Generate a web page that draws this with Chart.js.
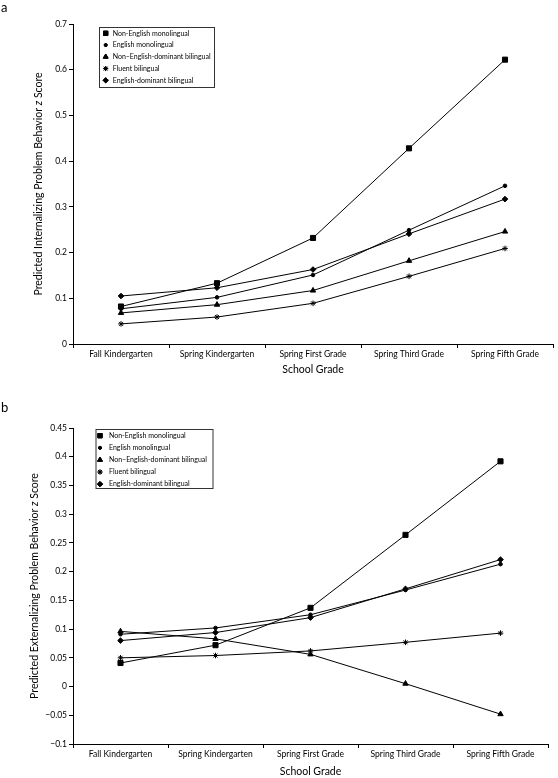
<!DOCTYPE html>
<html>
<head>
<meta charset="utf-8">
<script src="https://cdn.jsdelivr.net/npm/chart.js@4/dist/chart.umd.min.js"></script>
<style>
  html, body { margin: 0; padding: 0; background: #fff; overflow: hidden; }
  body { width: 558px; height: 778px; position: relative; }
  canvas { position: absolute; left: 0; }
  #chart-a { top: 0; }
  #chart-b { top: 380px; }
</style>
</head>
<body>
<canvas id="chart-a" width="558" height="380"></canvas>
<canvas id="chart-b" width="558" height="398"></canvas>
<script>
/* ── Data ─────────────────────────────── */
const grades = ['Fall Kindergarten', 'Spring Kindergarten', 'Spring First Grade', 'Spring Third Grade', 'Spring Fifth Grade'];
const groups = ['Non-English monolingual', 'English monolingual', 'Non\u2013English-dominant bilingual', 'Fluent bilingual', 'English-dominant bilingual'];

// panel a: internalizing
const intNonEngMono = [0.082, 0.133, 0.232, 0.428, 0.622];
const intEngMono    = [0.077, 0.102, 0.151, 0.249, 0.346];
const intNonEngDom  = [0.068, 0.086, 0.117, 0.182, 0.246];
const intFluent     = [0.044, 0.059, 0.089, 0.148, 0.209];
const intEngDom     = [0.105, 0.123, 0.163, 0.241, 0.317];

// panel b: externalizing
const extNonEngMono = [0.041, 0.072, 0.137, 0.264, 0.392];
const extEngMono    = [0.091, 0.102, 0.125, 0.168, 0.213];
const extNonEngDom  = [0.096, 0.083, 0.056, 0.005, -0.048];
const extFluent     = [0.050, 0.054, 0.062, 0.077, 0.093];
const extEngDom     = [0.080, 0.094, 0.120, 0.170, 0.221];

const intTicks = { min: 0, max: 0.7, step: 0.1 };
const extTicks = { min: -0.1, max: 0.45, step: 0.05 };

/* ── Styling ──────────────────────────── */
const FONT = 'Lato, "Noto Sans", sans-serif';
const markers = [
  { style: 'rect',     r: 3.6, lr: 3.1 },
  { style: 'circle',   r: 1.8, lr: 1.5 },
  { style: 'triangle', r: 3.1, lr: 2.8 },
  { style: 'star',     r: 2.8, lr: 2.5 },
  { style: 'rectRot',  r: 2.8, lr: 2.6 },
];

function makeDatasets(series) {
  return series.map((vals, i) => ({
    label: groups[i],
    data: vals,
    borderColor: '#000',
    backgroundColor: '#000',
    borderWidth: 1,
    pointStyle: markers[i].style,
    pointRadius: markers[i].r,
    pointBorderWidth: 1,
    pointBackgroundColor: '#000',
    pointBorderColor: '#000',
    tension: 0,
    clip: false,
  }));
}

const fmtTick = v => String(Math.round(v * 100) / 100).replace('-', '\u2212');

/* ── Panel plugin: letter tag, y title with italic z, boxed legend ── */
const panelPlugin = {
  id: 'panel',
  afterDraw(chart, args, o) {
    const ctx = chart.ctx;
    const area = chart.chartArea;
    ctx.save();
    ctx.fillStyle = '#000';

    // tag
    ctx.font = `13px ${FONT}`;
    ctx.textAlign = 'left';
    ctx.textBaseline = 'alphabetic';
    ctx.fillText(o.tag, 1, o.tagY);

    // y title
    ctx.save();
    ctx.translate(o.titleX, (area.top + area.bottom) / 2);
    ctx.rotate(-Math.PI / 2);
    ctx.textBaseline = 'middle';
    const parts = [
      [o.title[0], `10.5px ${FONT}`],
      ['z', `italic 10.5px ${FONT}`],
      [o.title[1], `10.5px ${FONT}`],
    ];
    let total = 0;
    parts.forEach(p => { ctx.font = p[1]; total += ctx.measureText(p[0]).width; });
    let x = -total / 2;
    parts.forEach(p => { ctx.font = p[1]; ctx.fillText(p[0], x, 0); x += ctx.measureText(p[0]).width; });
    ctx.restore();

    // legend box
    const L = o.legend;
    ctx.strokeStyle = '#333';
    ctx.lineWidth = 1;
    ctx.strokeRect(L.x + 0.5, L.y + 0.5, L.w, L.h);
    ctx.font = `7px ${FONT}`;
    ctx.textBaseline = 'middle';
    chart.data.datasets.forEach((ds, i) => {
      const y = L.y + L.first + i * L.gap;
      ctx.lineWidth = 1;
      Chart.helpers.drawPoint(ctx, { pointStyle: ds.pointStyle, radius: markers[i].lr, rotation: 0, borderWidth: 1 }, L.markX, y);
      ctx.fillStyle = '#000';
      ctx.strokeStyle = '#000';
      ctx.fill();
      ctx.stroke();
      ctx.fillText(ds.label, L.textX, y);
    });
    ctx.restore();
  },
};

function buildChart(id, series, tk, cfg) {
  return new Chart(document.getElementById(id), {
    type: 'line',
    data: { labels: grades, datasets: makeDatasets(series) },
    plugins: [panelPlugin],
    options: {
      responsive: false,
      animation: false,
      layout: { padding: { top: cfg.padTop, right: cfg.padRight, left: 0, bottom: 0 } },
      plugins: {
        legend: { display: false },
        tooltip: { enabled: false },
        panel: cfg.panel,
      },
      scales: {
        x: {
          offset: true,
          grid: { drawOnChartArea: false, drawTicks: true, tickLength: 4, color: '#000', offset: true },
          border: { color: '#000', width: 1 },
          ticks: { color: '#000', font: { family: FONT, size: 8.5 }, padding: 1, maxRotation: 0, autoSkip: false },
          title: { display: true, text: 'School Grade', color: '#000', font: { family: FONT, size: 10.5 }, padding: { top: 0, bottom: cfg.xTitlePad } },
          afterFit: s => { s.height = cfg.xHeight; },
        },
        y: {
          min: tk.min,
          max: tk.max,
          grid: { drawOnChartArea: false, drawTicks: true, tickLength: 4, color: '#000' },
          border: { color: '#000', width: 1 },
          ticks: { stepSize: tk.step, color: '#000', font: { family: FONT, size: 8.5 }, padding: 2, callback: fmtTick },
          afterFit: s => { s.width = 73; },
        },
      },
    },
  });
}

buildChart('chart-a', [intNonEngMono, intEngMono, intNonEngDom, intFluent, intEngDom], intTicks, {
  padTop: 24, padRight: 2, xHeight: 36, xTitlePad: 4.5,
  panel: {
    tag: 'a', tagY: 12, titleX: 39,
    title: ['Predicted Internalizing Problem Behavior ', ' Score'],
    legend: { x: 99, y: 27, w: 115, h: 60, first: 6.3, gap: 11.75, markX: 105.7, textX: 112.7 },
  },
});

buildChart('chart-b', [extNonEngMono, extEngMono, extNonEngDom, extFluent, extEngDom], extTicks, {
  padTop: 48, padRight: 10, xHeight: 34, xTitlePad: 0,
  panel: {
    tag: 'b', tagY: 31.5, titleX: 34.5,
    title: ['Predicted Externalizing Problem Behavior ', ' Score'],
    legend: { x: 95.5, y: 49, w: 117, h: 59, first: 6.7, gap: 12.1, markX: 100, textX: 109 },
  },
});
</script>
</body>
</html>
